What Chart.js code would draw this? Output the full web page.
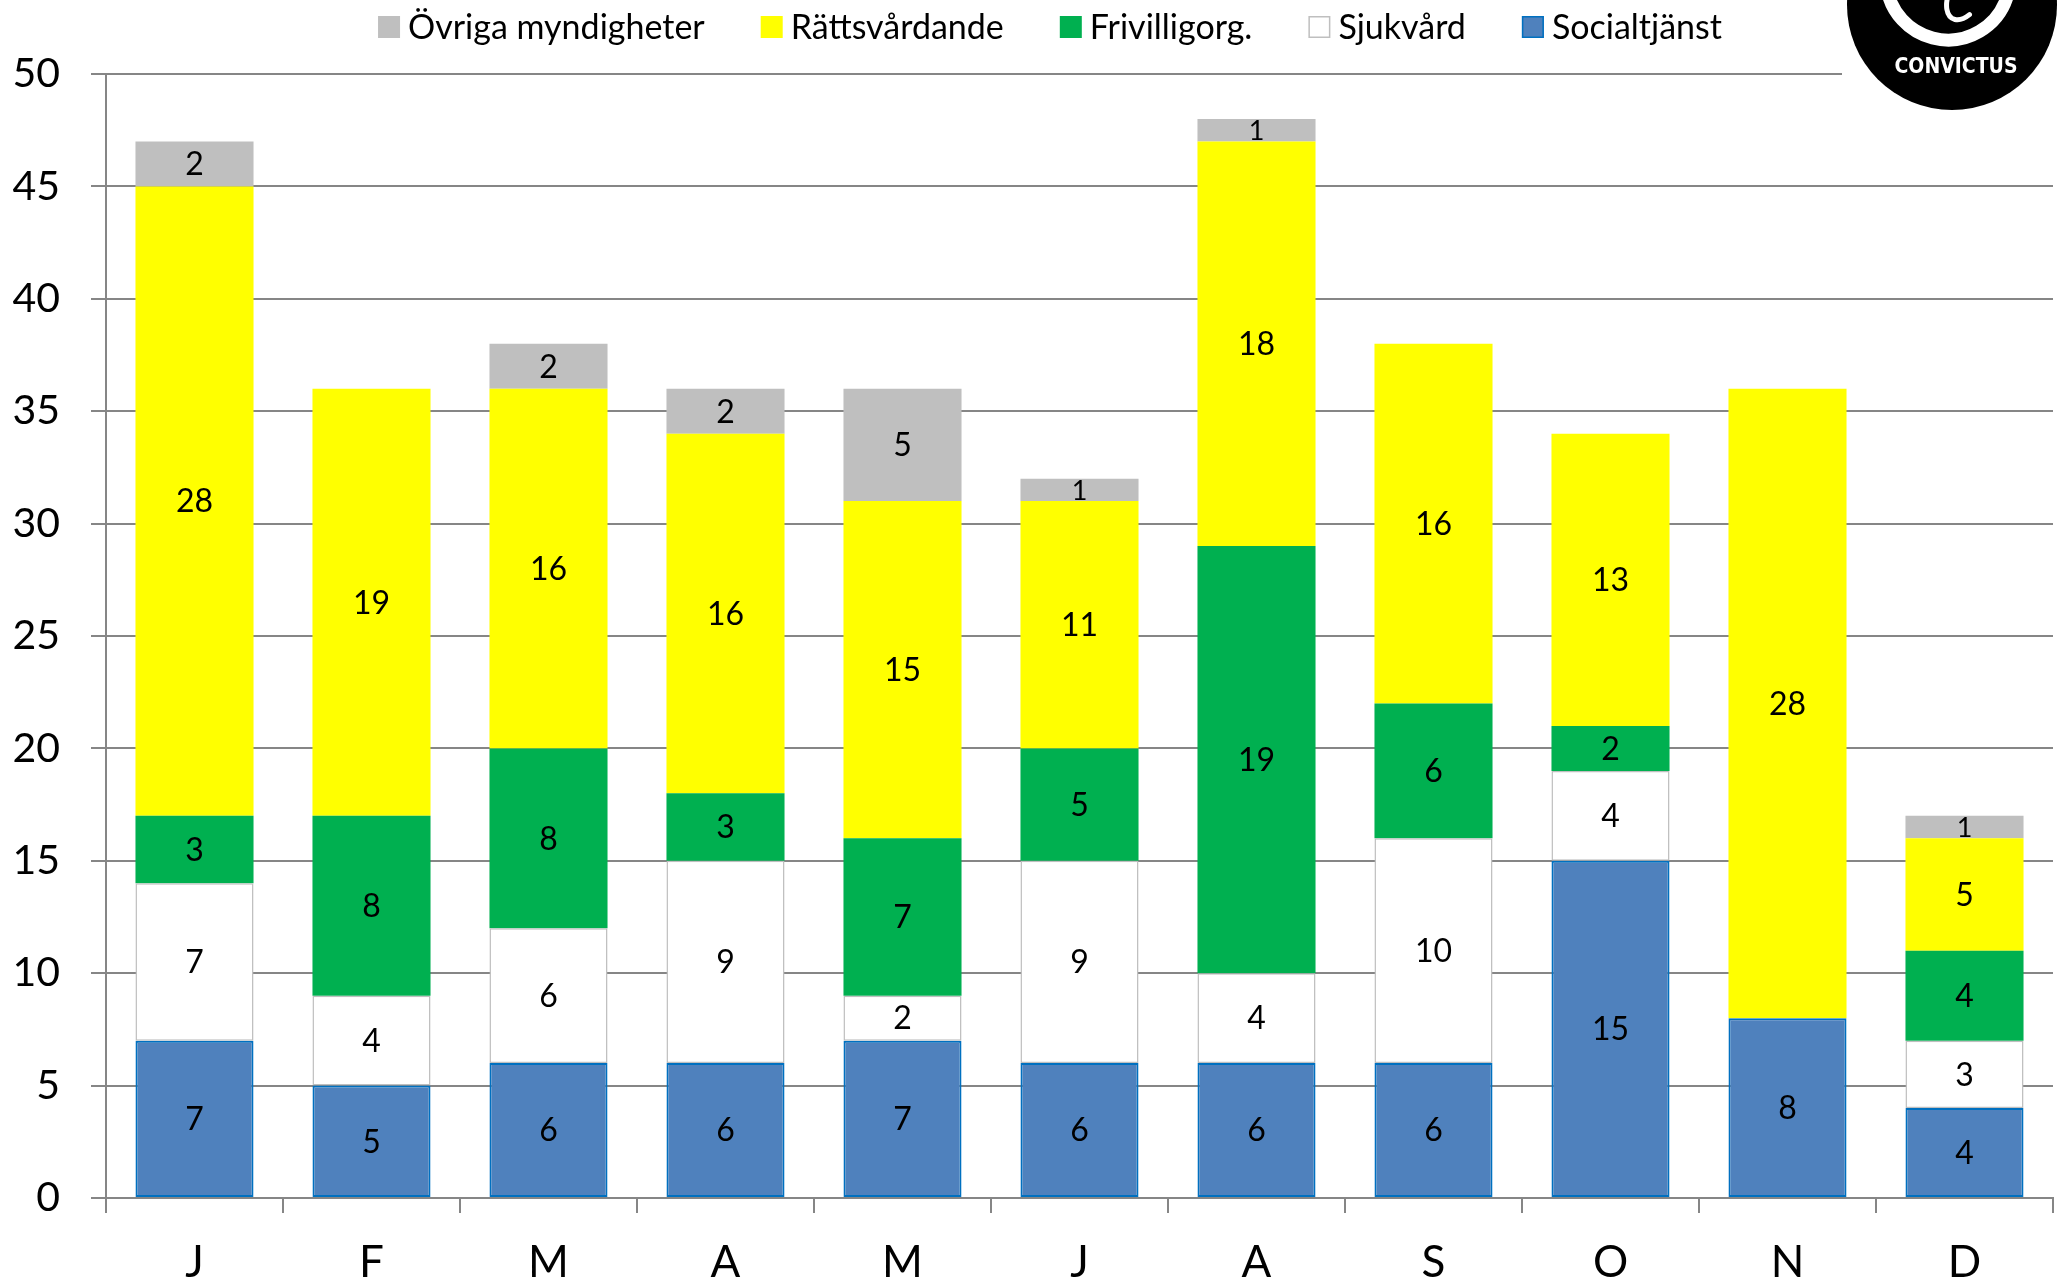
<!DOCTYPE html>
<html>
<head>
<meta charset="utf-8">
<script src="https://cdn.jsdelivr.net/npm/chart.js@4.4.1/dist/chart.umd.min.js"></script>
<style>
  html, body { margin: 0; padding: 0; background: #fff; overflow: hidden; }
  #chart { display: block; }
</style>
</head>
<body>
<canvas id="chart" width="2064" height="1277"></canvas>
<script>
// months (the source chart only shows 11 of them)
const months = ['J', 'F', 'M', 'A', 'M', 'J', 'A', 'S', 'O', 'N', 'D'];

// stacked from the bottom up
const socialtjanst  = [7, 5, 6, 6, 7, 6, 6, 6, 15, 8, 4];
const sjukvard      = [7, 4, 6, 9, 2, 9, 4, 10, 4, 0, 3];
const frivilligorg  = [3, 8, 8, 3, 7, 5, 19, 6, 2, 0, 4];
const rattsvardande = [28, 19, 16, 16, 15, 11, 18, 16, 13, 28, 5];
const ovriga        = [2, 0, 2, 2, 5, 1, 1, 0, 0, 0, 1];

const yMin = 0, yMax = 50, yStep = 5;

const FONT = 'Lato, "Open Sans", sans-serif';
const GRID = '#868686';

// value labels in the middle of every segment
const segmentLabels = {
  id: 'segmentLabels',
  afterDatasetsDraw(chart) {
    const ctx = chart.ctx;
    ctx.save();
    ctx.fillStyle = '#000';
    ctx.textAlign = 'center';
    ctx.textBaseline = 'middle';
    chart.data.datasets.forEach((ds, i) => {
      chart.getDatasetMeta(i).data.forEach((bar, j) => {
        const v = ds.data[j];
        if (!v) return;
        ctx.font = (v === 1 ? '27px ' : '32px ') + FONT;
        ctx.fillText(String(v), bar.x, (bar.y + bar.base) / 2 + 1);
      });
    });
    ctx.restore();
  }
};

// legend row on top, drawn by hand to place it like the original
const topLegend = {
  id: 'topLegend',
  afterDraw(chart) {
    const ctx = chart.ctx;
    const items = chart.data.datasets.slice().reverse();
    ctx.save();
    ctx.font = '34px ' + FONT;
    ctx.textBaseline = 'middle';
    const box = 22, gapText = 8, gapItem = 56;
    let total = 0;
    items.forEach((ds, k) => {
      total += box + gapText + ctx.measureText(ds.label).width + (k ? gapItem : 0);
    });
    let x = 1050 - total / 2;
    const y = 27;
    items.forEach(ds => {
      ctx.fillStyle = ds.backgroundColor;
      ctx.fillRect(x, y - box / 2, box, box);
      if (ds.borderWidth) {
        ctx.strokeStyle = ds.borderColor;
        ctx.lineWidth = 1.5;
        ctx.strokeRect(x + 0.75, y - box / 2 + 0.75, box - 1.5, box - 1.5);
      }
      x += box + gapText;
      ctx.fillStyle = '#000';
      ctx.fillText(ds.label, x, y + 1);
      x += ctx.measureText(ds.label).width + gapItem;
    });
    ctx.restore();
  }
};

// Convictus logo in the top right corner
const logo = {
  id: 'logo',
  afterDraw(chart) {
    const ctx = chart.ctx;
    ctx.save();
    ctx.fillStyle = '#fff';
    ctx.fillRect(1842, 0, 222, 118);
    ctx.beginPath();
    ctx.arc(1952, 5, 105, 0, Math.PI * 2);
    ctx.fillStyle = '#000';
    ctx.fill();
    ctx.strokeStyle = '#fff';
    ctx.lineCap = 'round';
    ctx.lineWidth = 13;
    ctx.beginPath();
    ctx.arc(1948, -22, 62, 0.08 * Math.PI, 0.95 * Math.PI);
    ctx.stroke();
    ctx.lineWidth = 5;
    ctx.beginPath();
    ctx.ellipse(1966, -6, 16, 28, 0.5, 0.2 * Math.PI, 1.2 * Math.PI);
    ctx.stroke();
    ctx.fillStyle = '#fff';
    ctx.font = 'bold 21px "Liberation Sans Narrow", "DejaVu Sans Condensed", sans-serif';
    ctx.textAlign = 'center';
    ctx.textBaseline = 'middle';
    ctx.fillText('CONVICTUS', 1956, 68);
    ctx.restore();
  }
};

const bar = (label, data, bg, border, width) => ({
  label, data,
  backgroundColor: bg,
  borderColor: border || bg,
  borderWidth: width || 0,
  borderSkipped: false,
  barPercentage: 0.667,
  categoryPercentage: 1
});

new Chart(document.getElementById('chart'), {
  type: 'bar',
  data: {
    labels: months,
    datasets: [
      bar('Socialtjänst', socialtjanst, '#4F81BD', '#0070C0', 2),
      bar('Sjukvård', sjukvard, '#FFFFFF', '#BFBFBF', 1.5),
      bar('Frivilligorg.', frivilligorg, '#00B050'),
      bar('Rättsvårdande', rattsvardande, '#FFFF00'),
      bar('Övriga myndigheter', ovriga, '#BFBFBF')
    ]
  },
  options: {
    responsive: false,
    animation: false,
    devicePixelRatio: 1,
    layout: { padding: { top: 74, right: 11, left: 0, bottom: 0 } },
    plugins: {
      legend: { display: false },
      tooltip: { enabled: false }
    },
    scales: {
      x: {
        stacked: true,
        grid: { display: true, offset: true, drawOnChartArea: false, drawTicks: true, tickLength: 15, color: GRID, lineWidth: 2 },
        border: { display: true, color: GRID, width: 2 },
        ticks: { color: '#000', font: { family: FONT, size: 44, lineHeight: 1 }, padding: 28 },
        afterFit(s) { s.height = 79; }
      },
      y: {
        stacked: true,
        min: yMin, max: yMax,
        grid: { color: GRID, lineWidth: 2, tickLength: 15 },
        border: { display: true, color: GRID, width: 2 },
        ticks: { stepSize: yStep, color: '#000', font: { family: FONT, size: 41 }, padding: 31 },
        afterFit(s) { s.width = 106; }
      }
    }
  },
  plugins: [segmentLabels, topLegend, logo]
});
</script>
</body>
</html>
